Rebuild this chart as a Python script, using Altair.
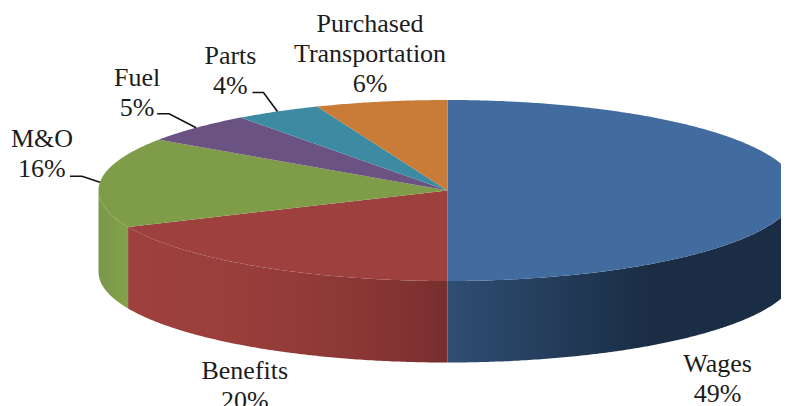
import math
import altair as alt
import pandas as pd

# Chart values
categories = ["Wages", "Benefits", "M&O", "Fuel", "Parts", "Purchased Transportation"]
label_lines = [["Wages"], ["Benefits"], ["M&O"], ["Fuel"], ["Parts"], ["Purchased", "Transportation"]]
percent_labels = ["49%", "20%", "16%", "5%", "4%", "6%"]
# slice sizes as they appear in the drawn perspective
drawn_shares = [50.0, 18.4, 16.1, 5.4, 4.0, 6.1]

# Style
top_colors = ["#426C9F", "#9E403E", "#7F9C48", "#6A5282", "#3D8BA3", "#C97B38"]
side_stops = {
    "Wages": [(0, "#2F4E73"), (0.58, "#1A2D44"), (1, "#1A2D44")],
    "Benefits": [(0, "#9E403E"), (0.3, "#9A3F3C"), (0.6, "#8F3A38"), (0.85, "#843332"), (1, "#752F2E")],
    "M&O": [(0, "#7A984A"), (1, "#84A14B")],
}
FONT = "Liberation Serif"
FONT_SIZE = 26
TEXT_COLOR = "#1C1C1C"

# Geometry of the tilted pie, in pixels of the picture
W, H, M = 781, 406, 8
CX, CY, RX, RY, DEPTH = 447.5, 190.5, 349.0, 90.5, 81.5
x_dom = [(M - CX) / RX, (W - CX) / RX]
y_dom = [(CY - H) / RY, (CY - M) / RY]
x_scale = alt.Scale(domain=x_dom, range=[0, W - M], nice=False, zero=False)
y_scale = alt.Scale(domain=y_dom, range=[H - M, 0], nice=False, zero=False)
X = alt.X("x:Q", scale=x_scale, axis=None)
Y = alt.Y("y:Q", scale=y_scale, axis=None)


def rim(t_deg, drop=0.0):
    t = math.radians(t_deg)
    return math.sin(t), math.cos(t) - drop


def offset(pt, dx, dy):
    return pt[0] + dx / RX, pt[1] - dy / RY


def arc(a, b):
    n = max(2, int(abs(b - a) * 2))
    return [a + (b - a) * k / n for k in range(n + 1)]


def polygon(points, fill):
    df = pd.DataFrame({"x": [p[0] for p in points], "y": [p[1] for p in points],
                       "i": range(len(points))})
    return alt.Chart(df).mark_line(fill=fill, stroke=None, clip=True, interpolate="linear").encode(
        x=X, y=Y, order="i:Q")


def gradient(stops):
    return alt.Gradient(gradient="linear", x1=0, x2=1, y1=0, y2=0,
                        stops=[alt.GradientStop(offset=o, color=c) for o, c in stops])


starts, ends, total = [], [], 0.0
for s in drawn_shares:
    starts.append(total / 100 * 360)
    total += s
    ends.append(total / 100 * 360)
mids = [(a + b) / 2 for a, b in zip(starts, ends)]

layers = []
# Front wall
for name, a, b in zip(categories, starts, ends):
    lo, hi = max(a, 90), min(b, 270)
    if name in side_stops and hi > lo:
        top = [rim(t) for t in arc(lo, hi)]
        bottom = [rim(t, DEPTH / RY) for t in arc(hi, lo)]
        layers.append(polygon(top + bottom, gradient(side_stops[name])))
# Top face
for c, a, b in zip(top_colors, starts, ends):
    layers.append(polygon([(0.0, 0.0)] + [rim(t) for t in arc(a, b)], c))

# Leader lines (pixel offsets from each slice's rim midpoint)
leaders = {"M&O": [(-18, -6), (-30, -6)], "Fuel": [(-27, -14), (-39, -14)], "Parts": [(-14, -19), (-25, -19)]}
for name, path in leaders.items():
    base = rim(mids[categories.index(name)])
    pts = [base] + [offset(base, dx, dy) for dx, dy in path]
    df = pd.DataFrame({"x": [p[0] for p in pts], "y": [p[1] for p in pts], "i": range(len(pts))})
    layers.append(alt.Chart(df).mark_line(color="#111111", strokeWidth=1.6).encode(x=X, y=Y, order="i:Q"))

# Labels (pixel offsets of each text row from the slice's rim midpoint)
label_offsets = {
    "Wages": (-79, 173), "Benefits": (-12, 105), "M&O": (-58, -43),
    "Fuel": (-59, -50), "Parts": (-47, -55), "Purchased Transportation": (-11, -78),
}
LINE_GAP = 30
rows = []
for name, lines, pct, mid in zip(categories, label_lines, percent_labels, mids):
    dx, dy = label_offsets[name]
    base = rim(mid)
    for k, txt in enumerate(lines + [pct]):
        x, y = offset(base, dx, dy + k * LINE_GAP)
        rows.append({"x": x, "y": y, "text": txt})
layers.append(alt.Chart(pd.DataFrame(rows)).mark_text(
    font=FONT, fontSize=FONT_SIZE, color=TEXT_COLOR, align="center", baseline="middle", clip=True
).encode(x=X, y=Y, text="text:N"))

chart = alt.layer(*layers).properties(
    width=W - M, height=H - M, padding=0, background="white"
).configure_view(stroke=None)

chart.save("out.html", embed_options={"renderer": "svg", "actions": False})
